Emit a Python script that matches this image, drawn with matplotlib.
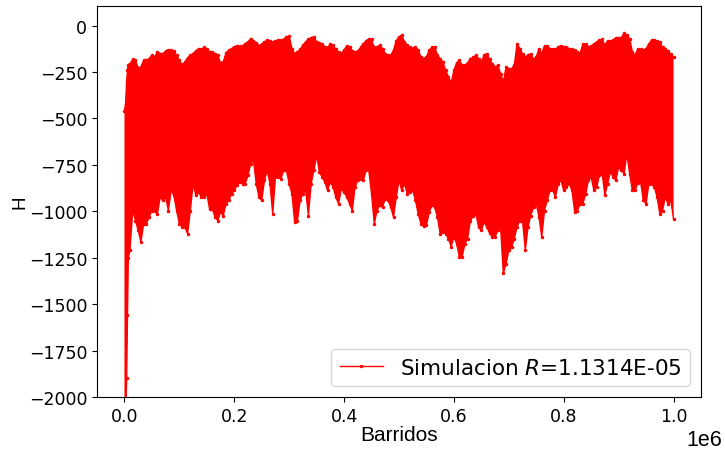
import numpy as np
import matplotlib
matplotlib.use('Agg')
import matplotlib.pyplot as plt
from matplotlib.lines import Line2D

# Sweep positions (units of 1e6 sweeps) where the band was read
barridos_inicio = [0.0, 0.002, 0.004, 0.0055, 0.007]
barridos_rejilla = [round(0.01 * k, 3) for k in range(1, 101)]      # 0.01 ... 1.00
barridos_medio = [round(0.005 + 0.01 * k, 3) for k in range(1, 100)]  # 0.015 ... 0.995

# Upper envelope of H
h_max_inicio = [-460, -420, -300, -240, -210]
h_max_rejilla = [
    -205, -187, -223, -187, -160, -142, -151, -133, -137, -187,
    -196, -160, -137, -129, -124, -142, -160, -196, -133, -115,
    -111, -97, -70, -93, -100, -79, -88, -79, -75, -57,
    -151, -129, -88, -65, -88, -100, -118, -106, -142, -133,
    -115, -142, -118, -82, -75, -115, -124, -160, -133, -61,
    -88, -118, -115, -169, -169, -118, -160, -196, -277, -241,
    -187, -214, -178, -160, -196, -151, -205, -214, -304, -232,
    -214, -124, -169, -151, -169, -151, -111, -129, -115, -115,
    -124, -133, -147, -100, -110, -88, -75, -82, -79, -65,
    -40, -70, -160, -129, -124, -79, -82, -118, -137, -169]
h_max_medio = [
    -183, -228, -187, -178, -169, -151, -138, -133, -160,
    -210, -174, -151, -124, -118, -142, -151, -201, -147, -124,
    -108, -110, -88, -82, -108, -88, -84, -82, -79, -61,
    -124, -142, -106, -75, -61, -93, -115, -100, -129, -151,
    -108, -135, -137, -100, -73, -118, -106, -151, -160, -82,
    -52, -106, -122, -133, -178, -133, -115, -178, -241, -309,
    -201, -214, -201, -172, -178, -160, -183, -223, -259, -223,
    -232, -97, -151, -160, -183, -124, -108, -124, -129, -108,
    -118, -128, -142, -100, -115, -100, -79, -106, -86, -65,
    -65, -52, -142, -126, -133, -100, -79, -88, -124, -155]

# Lower envelope of H
h_min_inicio = [-2600, -2100, -1900, -1560, -1250]
h_min_rejilla = [
    -1211, -1050, -1166, -1067, -996, -1014, -942, -996, -915, -1067,
    -1085, -996, -914, -924, -906, -987, -1050, -1023, -942, -888,
    -843, -852, -744, -852, -942, -780, -1014, -816, -780, -852,
    -1060, -942, -888, -852, -700, -816, -888, -870, -960, -897,
    -960, -870, -825, -780, -906, -996, -978, -942, -1032, -834,
    -852, -897, -942, -1067, -1076, -968, -1032, -1112, -1148, -1139,
    -1247, -1175, -1050, -1014, -1103, -1085, -1139, -1103, -1335, -1211,
    -1148, -1050, -1211, -1023, -960, -1139, -942, -888, -852, -888,
    -852, -1005, -960, -906, -816, -870, -798, -852, -816, -762,
    -798, -798, -888, -843, -960, -852, -924, -996, -960, -1041]
h_min_medio = [
    -996, -1103, -1067, -1032, -996, -924, -924, -888, -996,
    -1085, -1121, -852, -897, -924, -987, -1032, -1005, -960, -906,
    -861, -852, -807, -726, -924, -834, -852, -816, -825, -780,
    -906, -1050, -906, -1023, -780, -789, -843, -843, -924, -879,
    -924, -996, -834, -834, -780, -1067, -968, -932, -978, -924,
    -888, -906, -888, -1014, -1082, -1005, -978, -1121, -1121, -1190,
    -1175, -1247, -1148, -1028, -1085, -1058, -1118, -1139, -1085, -1283,
    -1193, -1085, -1050, -1085, -978, -1032, -996, -888, -924, -834,
    -870, -888, -996, -960, -834, -888, -807, -914, -789, -834,
    -780, -690, -888, -848, -942, -852, -870, -1014, -924, -942]

etiqueta = 'Simulacion $R$=1.1314E-05'
color = '#ff0000'

x = np.array(barridos_inicio + barridos_rejilla + barridos_medio)
top = np.array(h_max_inicio + h_max_rejilla + h_max_medio, dtype=float)
bot = np.array(h_min_inicio + h_min_rejilla + h_min_medio, dtype=float)
orden = np.argsort(x, kind='stable')
x, top, bot = x[orden] * 1e6, top[orden], bot[orden]

fig = plt.figure(figsize=(7.25, 4.52), dpi=100)
ax = fig.add_axes([0.1338, 0.1195, 0.8331, 0.865])

ax.fill_between(x, bot, top, color=color, lw=0)
ax.plot(x, top, color=color, marker='.', ms=3, lw=1.0)
ax.plot(x, bot, color=color, marker='.', ms=3, lw=1.0)

ax.set_ylim(-2000, 105)
ax.margins(x=0.05)
ax.set_yticks([0, -250, -500, -750, -1000, -1250, -1500, -1750, -2000])
ax.tick_params(labelsize=12.5)

ax.set_xlabel('Barridos', fontsize=15, family='Liberation Sans', labelpad=0.5)
ax.set_ylabel('H', fontsize=13.5, family='Liberation Sans', labelpad=0.5)
off = ax.xaxis.get_offset_text()
off.set_fontsize(15.5)
off.set_family('Liberation Sans')
off.set_x(1.035)

handle = Line2D([], [], color=color, marker='.', ms=3, lw=1)
ax.legend([handle], [etiqueta], loc='lower right', fontsize=15.5)

fig.savefig('out.png', dpi=100)
